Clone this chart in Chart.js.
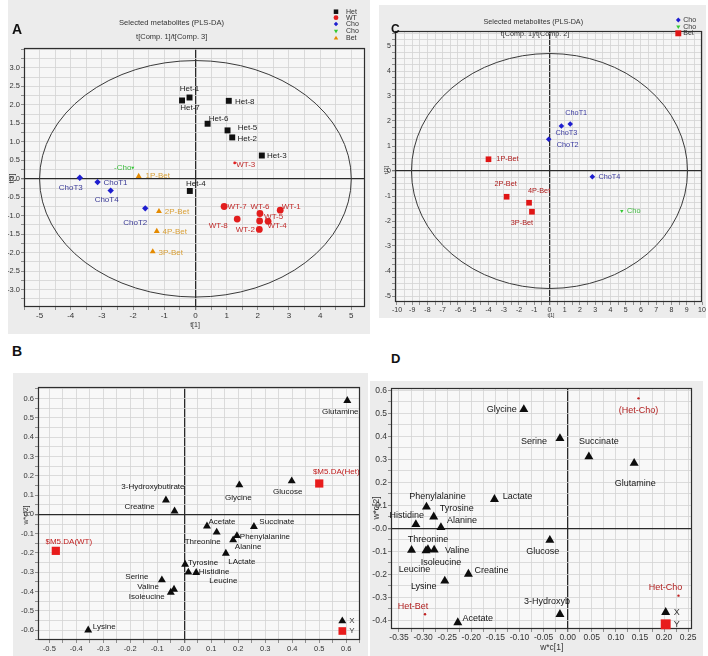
<!DOCTYPE html>
<html><head><meta charset="utf-8">
<script src="https://cdn.jsdelivr.net/npm/chart.js@4"></script>
<style>
body{margin:0;background:#fff;width:708px;height:656px;position:relative;overflow:hidden;font-family:"Liberation Sans",Arial,sans-serif}
.box{position:absolute;background:#ececec}
.box canvas{position:absolute;left:0;top:0}
.letter{position:absolute;font-weight:bold;color:#111;line-height:1;z-index:5}
</style></head><body>
<div class="box" style="left:8px;top:0;width:362px;height:334px"><canvas id="cA" width="362" height="334"></canvas></div>
<div class="box" style="left:379px;top:5px;width:327px;height:313px"><canvas id="cC" width="327" height="313"></canvas></div>
<div class="box" style="left:13px;top:373px;width:355px;height:283px"><canvas id="cB" width="355" height="283"></canvas></div>
<div class="box" style="left:370px;top:381px;width:333px;height:275px"><canvas id="cD" width="333" height="275"></canvas></div>
<div class="letter" style="left:12px;top:22px;font-size:14px">A</div>
<div class="letter" style="left:391px;top:23px;font-size:12px">C</div>
<div class="letter" style="left:12px;top:344px;font-size:14px">B</div>
<div class="letter" style="left:391px;top:352px;font-size:13px">D</div>
<script>
const FONT = '"Liberation Sans", Arial, sans-serif';

// ---------------- Panel A : scores t[1] vs t[3] ----------------
const aHetNames = ['Het-1','Het-7','Het-8','Het-6','Het-5','Het-2','Het-3','Het-4'];
const aHetT1 = [-0.19,-0.43,1.07,0.39,1.03,1.18,2.13,-0.18];
const aHetT3 = [2.20,2.12,2.11,1.49,1.31,1.12,0.63,-0.33];
const aWtNames = ['WT-3','WT-7','WT-6','WT-1','WT-5','WT-4','WT-8','WT-2'];
const aWtT1 = [1.26,0.92,2.07,2.72,2.06,2.33,1.34,2.05];
const aWtT3 = [0.43,-0.75,-0.94,-0.85,-1.14,-1.15,-1.09,-1.37];
const aChoNames = ['ChoT3','ChoT1','ChoT4','ChoT2'];
const aChoT1 = [-3.71,-3.14,-2.72,-1.61];
const aChoT3 = [0.03,-0.09,-0.32,-0.80];
const aChoMNames = ['-Cho'];
const aChoMT1 = [-2.01];
const aChoMT3 = [0.30];
const aBetNames = ['1P-Bet','2P-Bet','4P-Bet','3P-Bet'];
const aBetT1 = [-1.82,-1.17,-1.24,-1.37];
const aBetT3 = [0.07,-0.88,-1.42,-1.97];
const aEllipse = [5.0, 3.2];
const aXTickLabels = ['-5','-4','-3','-2','-1','0','1','2','3','4','5'];
const aYTickLabels = ['3.0','2.5','2.0','1.5','1.0','0.5','0.0','-0.5','-1.0','-1.5','-2.0','-2.5','-3.0'];
const aLegendNames = ['Het','WT','Cho','Cho','Bet'];

// ---------------- Panel C : scores t[1] vs t[2] ----------------
const cChoNames = ['ChoT1','ChoT3','ChoT2','ChoT4'];
const cChoT1 = [1.36,0.78,-0.05,2.81];
const cChoT2 = [1.88,1.80,1.27,-0.23];
const cChoMNames = ['Cho'];
const cChoMT1 = [4.74];
const cChoMT2 = [-1.60];
const cBetNames = ['1P-Bet','2P-Bet','4P-Bet','3P-Bet'];
const cBetT1 = [-4.00,-2.81,-1.34,-1.15];
const cBetT2 = [0.47,-1.03,-1.27,-1.63];
const cEllipse = [9.05, 4.7];
const cXTickLabels = ['-10','-9','-8','-7','-6','-5','-4','-3','-2','-1','0','1','2','3','4','5','6','7','8','9','10'];
const cYTickLabels = ['5','4','3','2','1','0','-1','-2','-3','-4','-5'];
const cLegendNames = ['Cho','Cho','Bet'];

// ---------------- Panel B : loadings w*c[1] vs w*c[2] ----------------
const bMetNames = ['Glutamine','Glucose','Glycine','3-Hydroxybutirate','Creatine','Acetate','Threonine','Succinate','Phenylalanine','Alanine','LActate','Tyrosine','Histidine','Leucine','Serine','Valine','Isoleucine','Lysine'];
const bW1 = [0.604,0.398,0.204,-0.068,-0.036,0.084,0.120,0.258,0.195,0.181,0.154,0.003,0.044,0.015,-0.083,-0.038,-0.050,-0.356];
const bW2 = [0.589,0.173,0.152,0.074,0.017,-0.061,-0.093,-0.064,-0.111,-0.133,-0.202,-0.259,-0.302,-0.300,-0.340,-0.389,-0.404,-0.600];
const bClassNames = ['$M5.DA(Het)','$M5.DA(WT)'];
const bClassW1 = [0.500,-0.476];
const bClassW2 = [0.160,-0.189];
const bXTickLabels = ['-0.5','-0.4','-0.3','-0.2','-0.1','-0.0','0.1','0.2','0.3','0.4','0.5','0.6'];
const bYTickLabels = ['0.6','0.5','0.4','0.3','0.2','0.1','0.0','-0.1','-0.2','-0.3','-0.4','-0.5','-0.6'];

// ---------------- Panel D : loadings w*c[1] vs w*c[2] ----------------
const dMetNames = ['Glycine','Serine','Succinate','Glutamine','Lactate','Phenylalanine','Tyrosine','Histidine','Alanine','Glucose','Threonine','Valine','Isoleucine','Leucine','Creatine','Lysine','3-Hydroxyb','Acetate'];
const dW1 = [-0.091,-0.016,0.044,0.138,-0.152,-0.293,-0.278,-0.315,-0.263,-0.037,-0.290,-0.277,-0.294,-0.324,-0.206,-0.255,-0.016,-0.228];
const dW2 = [0.517,0.391,0.311,0.283,0.126,0.093,0.050,0.017,0.004,-0.052,-0.092,-0.094,-0.097,-0.095,-0.199,-0.229,-0.374,-0.410];
const dClassNames = ['(Het-Cho)','Het-Bet','Het-Cho'];
const dClassW1 = [0.147,-0.296,0.230];
const dClassW2 = [0.565,-0.374,-0.293];
const dXTickLabels = ['-0.35','-0.30','-0.25','-0.20','-0.15','-0.10','-0.05','0.00','0.05','0.10','0.15','0.20','0.25'];
const dYTickLabels = ['0.6','0.5','0.4','0.3','0.2','0.1','-0.0','-0.1','-0.2','-0.3','-0.4'];
const xyLegendNames = ['X','Y'];

// ---------------- label placement (layout only, pixels) ----------------
const aHetOff = [[0,-9],[8,7],[16,1],[11,-5],[20,-3],[15,1],[15,0],[6,-7]];
const aWtOff = [[11,2],[13,0],[0,-7],[11,-3],[14,-4],[9,5],[-19,7],[-14,0]];
const aChoOff = [[-9,10],[18,1],[-4,9],[-10,14]];
const aChoMOff = [[-10,0]];
const aBetOff = [[19,0],[18,0],[18,1],[18,1]];
const cChoOff = [[6,-11],[5,7],[19,6],[17,0]];
const cChoMOff = [[12,0]];
const cBetOff = [[19,0],[-1,-13],[10,-12],[-10,11]];
const bMetOff = [[-7,11],[-4,11],[-1,13],[-13,-13],[-35,-4],[15,-4],[-14,9],[23,-5],[28,1],[15,7],[16,8],[18,-2],[18,-1],[35,9],[-25,-3],[-26,-3],[-24,4],[16,-3]];
const bClassOff = [[17,-12],[13,-9]];
const dMetOff = [[-22,0],[-26,3],[10,-15],[1,20],[23,-3],[11,-10],[23,-8],[-9,-9],[21,-7],[-7,11],[0,-10],[23,1],[15,12],[3,19],[23,-4],[-21,6],[-13,-13],[20,-4]];
const dClassOff = [[0,12],[-12,-8],[-13,-8]];

function pts(xs, ys){ return xs.map((x,i)=>({x:x, y:ys[i]})); }

function drawMarker(ctx, style, x, y, r, color){
  ctx.save(); ctx.fillStyle = color; ctx.beginPath();
  if (style==='rect'){ const s=r*Math.SQRT1_2; ctx.rect(x-s,y-s,2*s,2*s); }
  else if (style==='circle'){ ctx.arc(x,y,r,0,Math.PI*2); }
  else if (style==='rectRot'){ ctx.moveTo(x,y-r); ctx.lineTo(x+r,y); ctx.lineTo(x,y+r); ctx.lineTo(x-r,y); ctx.closePath(); }
  else if (style==='triangle'){ ctx.moveTo(x,y-r); ctx.lineTo(x+r*0.866,y+r*0.5); ctx.lineTo(x-r*0.866,y+r*0.5); ctx.closePath(); }
  else if (style==='triangleDown'){ ctx.moveTo(x,y+r); ctx.lineTo(x+r*0.866,y-r*0.5); ctx.lineTo(x-r*0.866,y-r*0.5); ctx.closePath(); }
  ctx.fill(); ctx.restore();
}

const panelPlugin = {
  id: 'panel',
  beforeDraw(chart, args, o){
    const {ctx, chartArea:a} = chart;
    ctx.save(); ctx.fillStyle = o.plotBg || '#f6f6f6';
    ctx.fillRect(a.left, a.top, a.right-a.left, a.bottom-a.top); ctx.restore();
  },
  beforeDatasetsDraw(chart, args, o){
    if (!o.ellipse) return;
    const {ctx} = chart; const sx = chart.scales.x, sy = chart.scales.y;
    const cx = sx.getPixelForValue(0), cy = sy.getPixelForValue(0);
    const rx = sx.getPixelForValue(o.ellipse[0]) - cx, ry = cy - sy.getPixelForValue(o.ellipse[1]);
    ctx.save(); ctx.beginPath(); ctx.ellipse(cx, cy, rx, ry, 0, 0, Math.PI*2);
    ctx.strokeStyle = '#3a3a3a'; ctx.lineWidth = 1; ctx.stroke(); ctx.restore();
  },
  afterDatasetsDraw(chart, args, o){
    const {ctx} = chart;
    (o.labels||[]).forEach(L=>{
      const meta = chart.getDatasetMeta(L.ds);
      ctx.save(); ctx.font = L.font; ctx.fillStyle = L.color; ctx.textAlign='center'; ctx.textBaseline='middle';
      L.names.forEach((n,i)=>{ const el = meta.data[i]; const off = L.off[i]; ctx.fillText(n, el.x+off[0], el.y+off[1]); });
      ctx.restore();
    });
  },
  afterDraw(chart, args, o){
    const {ctx, chartArea:a} = chart;
    ctx.save(); ctx.strokeStyle = '#2e2e2e'; ctx.lineWidth = 1.2;
    ctx.strokeRect(a.left+0.5, a.top+0.5, a.right-a.left-1, a.bottom-a.top-1); ctx.restore();
    (o.texts||[]).forEach(t=>{
      ctx.save(); ctx.font = t.font; ctx.fillStyle = t.color||'#333'; ctx.textAlign='center'; ctx.textBaseline='middle';
      ctx.translate(t.x, t.y); if (t.rot) ctx.rotate(t.rot); ctx.fillText(t.text, 0, 0); ctx.restore();
    });
    (o.legend||[]).forEach(it=>{
      const bx = it.area ? a.right + it.x : it.x, by = it.area ? a.bottom + it.y : it.y;
      drawMarker(ctx, it.style, bx, by, it.r, it.color);
      ctx.save(); ctx.font = it.font; ctx.fillStyle = it.tcolor||'#333'; ctx.textAlign='left'; ctx.textBaseline='middle';
      ctx.fillText(it.text, bx + it.tx, by); ctx.restore();
    });
  }
};

function axis(min, max, step, labels, fontSize, fitSize, isX){
  const isZero = c => c.tick && Math.abs(c.tick.value) < 1e-9;
  return {
    type:'linear', min:min, max:max,
    ticks:{ stepSize:step, autoSkip:false, includeBounds:false, maxRotation:0, minRotation:0, padding:1, color:'#333',
      font:{family:FONT, size:fontSize},
      callback:v=>{ const k = labels.findIndex(l=>Math.abs(parseFloat(l)-v)<1e-6); return k>=0?labels[k]:''; } },
    grid:{ color:c=>isZero(c)?'#2a2a2a':'#d3d3d3', lineWidth:c=>isZero(c)?1.3:0.8, tickLength:3, tickColor:'#777' },
    border:{display:false},
    afterFit:s=>{ if(isX) s.height = fitSize; else s.width = fitSize; s.paddingLeft=0; s.paddingRight=0; s.paddingTop=0; s.paddingBottom=0; }
  };
}

function ds(xs, ys, style, r, color, extra){
  return Object.assign({data:pts(xs,ys), pointStyle:style, pointRadius:r, pointHoverRadius:r, backgroundColor:color, borderColor:color, pointBorderWidth:0, showLine:false}, extra||{});
}

function make(id, datasets, scales, padding, panelOpts){
  return new Chart(document.getElementById(id), {
    type:'scatter',
    data:{datasets:datasets},
    options:{ responsive:false, animation:false, events:[],
      layout:{padding:padding},
      plugins:{ legend:{display:false}, tooltip:{enabled:false}, panel:panelOpts },
      scales:scales },
    plugins:[panelPlugin]
  });
}

const fA = '8px '+FONT, fC = '7.3px '+FONT, fB = '8px '+FONT, fD = '9px '+FONT;

// Panel A
make('cA', [
  ds(aHetT1, aHetT3, 'rect', 4.2, '#111'),
  ds(aWtT1, aWtT3, 'circle', c=>aWtNames[c.dataIndex]==='WT-3'?1.4:3.4, '#e21d1d'),
  ds(aChoT1, aChoT3, 'rectRot', 3.2, '#1e1ecf'),
  ds(aChoMT1, aChoMT3, 'triangle', 1.8, '#35c935', {pointRotation:180}),
  ds(aBetT1, aBetT3, 'triangle', 3.4, '#e48a00')
], {
  x: axis(-5.5, 5.44, 0.5, aXTickLabels, 8, 27, true),
  y: axis(-3.47, 3.54, 0.25, aYTickLabels, 7.5, 16, false)
}, {left:0, right:5, top:48, bottom:0}, {
  plotBg:'#f6f6f6', ellipse:aEllipse,
  labels:[
    {ds:0, names:aHetNames, off:aHetOff, font:fA, color:'#1a1a1a'},
    {ds:1, names:aWtNames, off:aWtOff, font:fA, color:'#c02a2a'},
    {ds:2, names:aChoNames, off:aChoOff, font:fA, color:'#3a3a96'},
    {ds:3, names:aChoMNames, off:aChoMOff, font:fA, color:'#3dbb3d'},
    {ds:4, names:aBetNames, off:aBetOff, font:fA, color:'#d9a038'}
  ],
  texts:[
    {text:'Selected metabolites (PLS-DA)', x:163.5, y:23, font:'7.6px '+FONT},
    {text:'t[Comp. 1]/t[Comp. 3]', x:163.7, y:37, font:'7.5px '+FONT},
    {text:'t[1]', x:187, y:325, font:'7px '+FONT},
    {text:'t[3]', x:4, y:178.5, font:'7px '+FONT, rot:-Math.PI/2}
  ],
  legend:[
    {style:'rect', r:3.2, color:'#111', x:328, y:11.7, text:aLegendNames[0], tx:10, font:'7px '+FONT},
    {style:'circle', r:2.4, color:'#e21d1d', x:328, y:17.7, text:aLegendNames[1], tx:10, font:'7px '+FONT},
    {style:'rectRot', r:2.2, color:'#1e1ecf', x:328, y:24, text:aLegendNames[2], tx:10, font:'7px '+FONT},
    {style:'triangleDown', r:2.4, color:'#35c935', x:328, y:31, text:aLegendNames[3], tx:10, font:'7px '+FONT},
    {style:'triangle', r:2.6, color:'#e48a00', x:328, y:38.3, text:aLegendNames[4], tx:10, font:'7px '+FONT}
  ]
});

// Panel C
make('cC', [
  ds(cChoT1, cChoT2, 'rectRot', 2.8, '#1e1ecf'),
  ds(cChoMT1, cChoMT2, 'triangle', 2.0, '#35c935', {pointRotation:180}),
  ds(cBetT1, cBetT2, 'rect', 4.0, '#e01515')
], {
  x: axis(-10.13, 10.0, 0.5, cXTickLabels, 7, 16, true),
  y: axis(-5.24, 5.6, 0.25, cYTickLabels, 7, 16, false)
}, {left:0, right:1, top:26, bottom:0}, {
  plotBg:'#f6f6f6', ellipse:cEllipse,
  labels:[
    {ds:0, names:cChoNames, off:cChoOff, font:fC, color:'#3b3ba0'},
    {ds:1, names:cChoMNames, off:cChoMOff, font:fC, color:'#3cb83c'},
    {ds:2, names:cBetNames, off:cBetOff, font:fC, color:'#b02020'}
  ],
  texts:[
    {text:'Selected metabolites (PLS-DA)', x:154.3, y:16.7, font:'7.2px '+FONT},
    {text:'t[Comp. 1]/t[Comp. 2]', x:156, y:29.3, font:'7.2px '+FONT},
    {text:'t[1]', x:172, y:311, font:'5px '+FONT},
    {text:'t[2]', x:7.7, y:165, font:'6px '+FONT, rot:-Math.PI/2}
  ],
  legend:[
    {style:'rectRot', r:2.4, color:'#1e1ecf', x:299.3, y:15, text:cLegendNames[0], tx:5, font:'7px '+FONT},
    {style:'triangleDown', r:2.4, color:'#35c935', x:299.3, y:21.7, text:cLegendNames[1], tx:5, font:'7px '+FONT},
    {style:'rect', r:4.2, color:'#e01515', x:299.3, y:28.3, text:cLegendNames[2], tx:5, font:'7px '+FONT}
  ]
});

// Panel B
make('cB', [
  ds(bW1, bW2, 'triangle', 4.6, '#0d0d0d'),
  ds(bClassW1, bClassW2, 'rect', 5.8, '#e81c1c')
], {
  x: axis(-0.542, 0.651, 0.05, bXTickLabels, 7.5, 16, true),
  y: axis(-0.651, 0.66, 0.05, bYTickLabels, 7.5, 25, false)
}, {left:0, right:8, top:14, bottom:0}, {
  plotBg:'#f8f8f8',
  labels:[
    {ds:0, names:bMetNames, off:bMetOff, font:fB, color:'#151515'},
    {ds:1, names:bClassNames, off:bClassOff, font:fB, color:'#c02020'}
  ],
  texts:[
    {text:'w*c[2]', x:12.7, y:142, font:'7px '+FONT, rot:-Math.PI/2}
  ],
  legend:[
    {area:true, style:'triangle', r:4.6, color:'#0d0d0d', x:-17.7, y:-19, text:xyLegendNames[0], tx:7, font:'8px '+FONT},
    {area:true, style:'rect', r:5.4, color:'#e81c1c', x:-17.7, y:-9, text:xyLegendNames[1], tx:7, font:'8px '+FONT}
  ]
});

// Panel D
make('cD', [
  ds(dW1, dW2, 'triangle', 5.2, '#0d0d0d'),
  ds(dClassW1, dClassW2, 'circle', 1.2, '#c02020')
], {
  x: axis(-0.3666, 0.258, 0.025, dXTickLabels, 8.5, 27, true),
  y: axis(-0.438, 0.61, 0.05, dYTickLabels, 8.5, 21, false)
}, {left:0, right:11, top:7, bottom:0}, {
  plotBg:'#f8f8f8',
  labels:[
    {ds:0, names:dMetNames, off:dMetOff, font:fD, color:'#151515'},
    {ds:1, names:dClassNames, off:dClassOff, font:fD, color:'#b02020'}
  ],
  texts:[
    {text:'w*c[1]', x:181.7, y:267, font:'8.5px '+FONT},
    {text:'w*c[2]', x:7, y:127, font:'8.5px '+FONT, rot:-Math.PI/2}
  ],
  legend:[
    {area:true, style:'triangle', r:5.2, color:'#0d0d0d', x:-26.3, y:-16.7, text:xyLegendNames[0], tx:8, font:'9px '+FONT},
    {area:true, style:'rect', r:7, color:'#e81c1c', x:-26.3, y:-4.7, text:xyLegendNames[1], tx:8, font:'9px '+FONT}
  ]
});
</script>
</body></html>
